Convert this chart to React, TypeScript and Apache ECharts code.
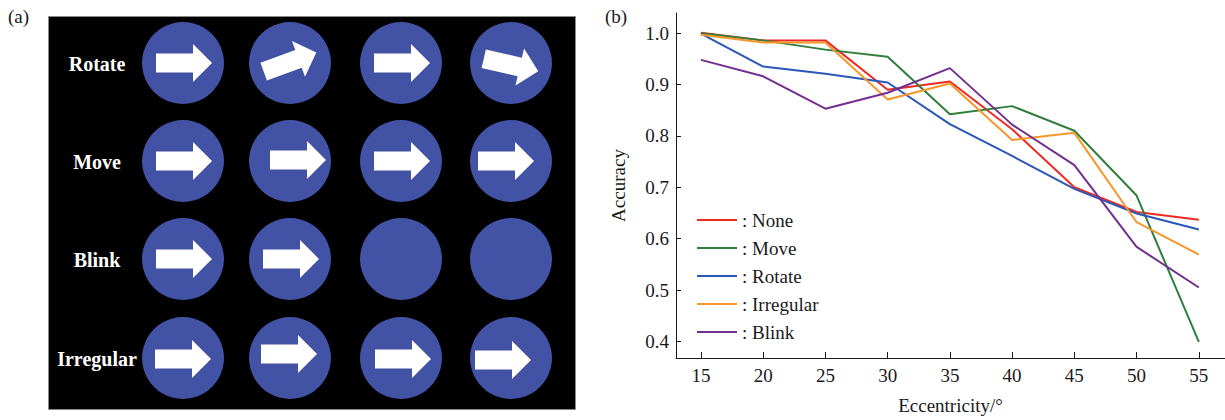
import React, { useEffect, useRef } from "react";
import * as echarts from "echarts";

// ---- chart data (panel b) ----
const eccentricity = [15, 20, 25, 30, 35, 40, 45, 50, 55];
const seriesNames = ["None", "Move", "Rotate", "Irregular", "Blink"];
const noneAcc = [1.001, 0.986, 0.986, 0.89, 0.906, 0.813, 0.7, 0.652, 0.637];
const moveAcc = [1.0, 0.986, 0.968, 0.954, 0.842, 0.858, 0.81, 0.684, 0.399];
const rotateAcc = [0.999, 0.935, 0.921, 0.904, 0.823, 0.761, 0.697, 0.649, 0.618];
const irregularAcc = [0.997, 0.982, 0.982, 0.871, 0.902, 0.792, 0.806, 0.632, 0.569];
const blinkAcc = [0.948, 0.916, 0.853, 0.884, 0.932, 0.822, 0.743, 0.584, 0.505];
const yTicks = [0.4, 0.5, 0.6, 0.7, 0.8, 0.9, 1.0];

// ---- stimulus data (panel a) ----
const rowLabels = ["Rotate", "Move", "Blink", "Irregular"];
// arrow visible per frame
const arrowShown = [
  [true, true, true, true],
  [true, true, true, true],
  [true, true, false, false],
  [true, true, true, true],
];
// arrow rotation per frame (degrees, counter-clockwise positive)
const arrowAngle = [
  [0, 20, 0, -13],
  [0, 0, 0, 0],
  [0, 0, 0, 0],
  [0, 0, 0, 0],
];

// ---- layout constants ----
const colX = [183, 290, 401, 511];
const rowY = [63, 161, 259, 358];
const arrowShift = [
  [[1, 0], [0, -1], [1, 0], [0, 2]],
  [[1, 0], [8, -1], [1, 0], [-5, 0]],
  [[1, 0], [1, 0], [0, 0], [0, 0]],
  [[0, 1], [-1, -4], [2, 1], [-8, 2]],
];
const colors = ["#EE2A24", "#2F7F3B", "#2A57B8", "#F7962B", "#722F8E"];
const FONT = "Liberation Serif";

const arrowPts = [
  [-28, -9.5],
  [9, -9.5],
  [9, -19],
  [28, 0],
  [9, 19],
  [9, 9.5],
  [-28, 9.5],
];

export default function App() {
  const ref = useRef<HTMLDivElement>(null);
  useEffect(() => {
    if (!ref.current) return;
    const chart = echarts.init(ref.current, undefined, { renderer: "svg" });
    const all = [noneAcc, moveAcc, rotateAcc, irregularAcc, blinkAcc];

    const elements: any[] = [];
    elements.push({
      type: "rect",
      shape: { x: 48.5, y: 16.5, width: 527, height: 393 },
      style: { fill: "#000", stroke: "#8a8a8a", lineWidth: 1 },
    });
    rowLabels.forEach((lab, r) => {
      elements.push({
        type: "text",
        x: 97,
        y: rowY[r] + 1,
        style: {
          text: lab,
          fill: "#fff",
          font: `bold 20px "${FONT}"`,
          align: "center",
          verticalAlign: "middle",
        },
      });
      colX.forEach((cx, c) => {
        elements.push({
          type: "circle",
          shape: { cx, cy: rowY[r], r: 41 },
          style: { fill: "#4252A4" },
        });
        if (arrowShown[r][c]) {
          elements.push({
            type: "polygon",
            x: cx + arrowShift[r][c][0],
            y: rowY[r] + arrowShift[r][c][1],
            rotation: (arrowAngle[r][c] * Math.PI) / 180,
            shape: { points: arrowPts },
            style: { fill: "#fff" },
          });
        }
      });
    });
    elements.push({
      type: "text",
      x: 8,
      y: 16,
      style: { text: "(a)", fill: "#1a1a1a", font: `19px "${FONT}"`, verticalAlign: "middle" },
    });
    elements.push({
      type: "text",
      x: 605,
      y: 16,
      style: { text: "(b)", fill: "#1a1a1a", font: `19px "${FONT}"`, verticalAlign: "middle" },
    });

    const axisText = { color: "#1a1a1a", fontFamily: FONT, fontSize: 19 };

    chart.setOption({
      animation: false,
      graphic: { elements },
      grid: { left: 676, top: 13, width: 549, height: 347, containLabel: false },
      legend: {
        orient: "vertical",
        left: 692,
        top: 205,
        icon: "rect",
        itemWidth: 40,
        itemHeight: 2,
        itemGap: 8,
        formatter: ": {name}",
        textStyle: { ...axisText, lineHeight: 20 },
        data: seriesNames,
      },
      xAxis: {
        type: "value",
        min: 13,
        max: 57.1,
        name: "Eccentricity/°",
        nameLocation: "middle",
        nameGap: 38,
        nameTextStyle: axisText,
        axisLine: { lineStyle: { color: "#1a1a1a", width: 1 } },
        axisTick: { inside: true, length: 6, customValues: eccentricity, lineStyle: { color: "#1a1a1a" } },
        axisLabel: { ...axisText, margin: 8, customValues: eccentricity },
        splitLine: { show: false },
      },
      yAxis: {
        type: "value",
        min: 0.3677,
        max: 1.0393,
        name: "Accuracy",
        nameLocation: "middle",
        nameGap: 48,
        nameTextStyle: axisText,
        axisLine: { show: true, lineStyle: { color: "#1a1a1a", width: 1 } },
        axisTick: { show: true, inside: true, length: 5, customValues: yTicks, lineStyle: { color: "#1a1a1a" } },
        axisLabel: {
          ...axisText,
          margin: 7,
          customValues: yTicks,
          formatter: (v: number) => v.toFixed(1),
        },
        splitLine: { show: false },
      },
      series: seriesNames.map((name, i) => ({
        name,
        type: "line",
        symbol: "none",
        data: eccentricity.map((x, j) => [x, all[i][j]]),
        lineStyle: { width: 2, color: colors[i] },
        itemStyle: { color: colors[i] },
      })),
    });
    return () => chart.dispose();
  }, []);
  return (
    <div
      ref={ref}
      style={{ position: "fixed", left: 0, top: 0, width: 1225, height: 420, background: "#fff" }}
    />
  );
}
